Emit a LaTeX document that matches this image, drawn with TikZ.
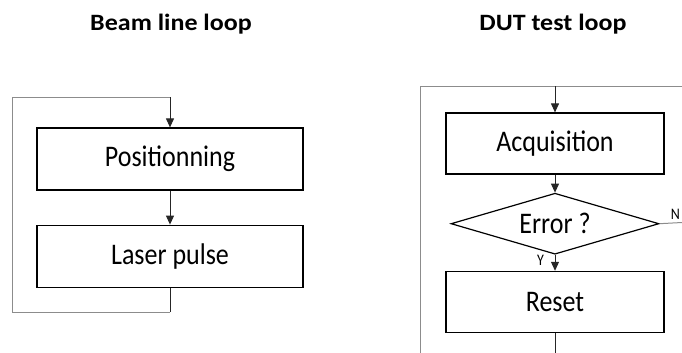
\documentclass[tikz,border=0pt]{standalone}
\usepackage{fontspec}
\setmainfont{Carlito}
\usetikzlibrary{arrows.meta,shapes.geometric,positioning}
\newcommand{\talltext}[1]{\scalebox{1}[1.15]{#1}}
\newcommand{\flattext}[1]{\scalebox{1}[0.9]{#1}}
\begin{document}
\begin{tikzpicture}[x=1pt,y=-1pt,
    stepbox/.style={draw,line width=1.2pt,minimum width=266pt,minimum height=62pt,
      font=\fontsize{26}{30}\selectfont},
    testbox/.style={stepbox,minimum width=218pt,minimum height=61pt},
    decision/.style={draw,diamond,line width=1.2pt,inner sep=0pt,aspect=3.4,
      minimum width=208pt,minimum height=61pt,font=\fontsize{26}{30}\selectfont},
    title/.style={font=\fontsize{26}{30}\selectfont\bfseries,anchor=base},
    flow/.style={line width=1pt,black!85},
    flowarrow/.style={flow,-{Triangle[length=9pt,width=8pt]}},
    loopline/.style={line width=1pt,black!45},
    tag/.style={font=\fontsize{14}{16}\selectfont,inner sep=0pt}]
  \useasboundingbox (0,0) rectangle (682,353);
  % titres
  \node[title] (beamtitle) at (171,31) {\flattext{Beam line loop}};
  \node[title] (duttitle) at (553,31) {\flattext{DUT test loop}};
  % boucle faisceau
  \node[stepbox] (pos) at (170,159) {\talltext{Positionning}};
  \node[stepbox, below=34pt of pos] (laser) {\talltext{Laser pulse}};
  \coordinate (ltop) at (170,97);
  \coordinate (lbot) at (170,312);
  \coordinate (lcorner) at (12,97);
  \draw[flowarrow] (ltop) -- (pos);
  \draw[flowarrow] (pos) -- (laser);
  \draw[flow] (laser) -- (lbot);
  \draw[loopline] (lbot) -| (lcorner) -- (ltop);
  % boucle test DUT
  \node[testbox] (acq) at (555,143.5) {\talltext{Acquisition}};
  \node[decision, below=18pt of acq] (err) {\talltext{Error ?}};
  \node[testbox, below=16pt of err] (reset) {\talltext{Reset}};
  \coordinate (rtop) at (555,86);
  \coordinate (rright) at (682,86);
  \coordinate (rleft) at (420,86);
  \coordinate (rdown) at (420,353);
  \coordinate (rbot) at (555,353);
  \coordinate (nout) at (682,222.5);
  \draw[loopline] (rright) -- (rleft) -- (rdown);
  \draw[flowarrow] (rtop) -- (acq);
  \draw[flowarrow] (acq) -- (err);
  \draw[flowarrow] (err) -- (reset);
  \draw[flow] (reset) -- (rbot);
  \draw[loopline] (err.east) -- (nout);
  \node[tag] (nlabel) at (675.5,214.5) {\talltext{N}};
  \node[tag] (ylabel) at (540.5,260.5) {\talltext{Y}};
\end{tikzpicture}
\end{document}
